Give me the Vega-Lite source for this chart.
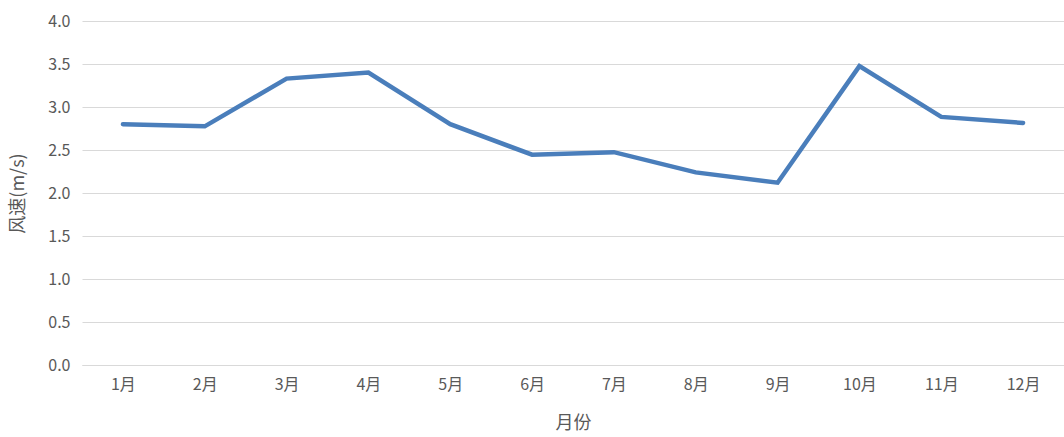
{
  "$schema": "https://vega.github.io/schema/vega-lite/v6.json",
  "width": 982,
  "height": 344,
  "autosize": {"type": "none"},
  "padding": {"left": 82, "top": 21, "right": 0, "bottom": 72},
  "background": "white",
  "config": {
    "view": {"stroke": null},
    "font": "Noto Sans CJK SC",
    "axis": {"labelFont": "Noto Sans CJK SC", "titleFont": "Noto Sans CJK SC", "labelColor": "#595959", "titleColor": "#595959", "labelFontSize": 16, "titleFontSize": 18, "titleFontWeight": "normal"}
  },
  "data": {"values": [
    {"month": "1月", "speed": 2.80},
    {"month": "2月", "speed": 2.775},
    {"month": "3月", "speed": 3.33},
    {"month": "4月", "speed": 3.40},
    {"month": "5月", "speed": 2.80},
    {"month": "6月", "speed": 2.445},
    {"month": "7月", "speed": 2.475},
    {"month": "8月", "speed": 2.24},
    {"month": "9月", "speed": 2.12},
    {"month": "10月", "speed": 3.475},
    {"month": "11月", "speed": 2.885},
    {"month": "12月", "speed": 2.815}
  ]},
  "mark": {"type": "line", "color": "#4a7ebb", "strokeWidth": 4.5, "strokeJoin": "miter", "strokeCap": "round"},
  "encoding": {
    "x": {"field": "month", "type": "ordinal", "sort": null, "title": "月份",
      "scale": {"type": "point", "padding": 0.5},
      "axis": {"labelAngle": 0, "ticks": false, "domainColor": "#d9d9d9", "labelPadding": 11, "titlePadding": 22, "grid": false}},
    "y": {"field": "speed", "type": "quantitative", "title": "风速(m/s)",
      "scale": {"domain": [0, 4]},
      "axis": {"values": [0, 0.5, 1, 1.5, 2, 2.5, 3, 3.5, 4], "format": ".1f", "domain": false, "ticks": false, "gridColor": "#d9d9d9", "labelPadding": 12, "titlePadding": 20}}
  }
}
